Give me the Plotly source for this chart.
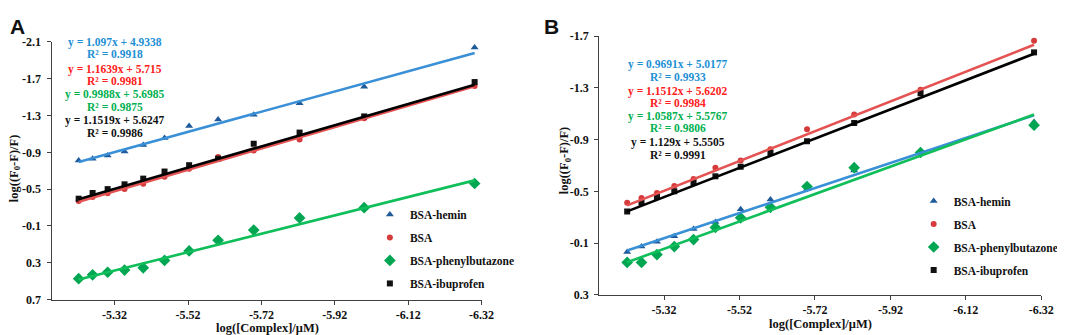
import plotly.graph_objects as go

# ---------------- data ----------------
x_log = [-5.222, -5.260, -5.301, -5.347, -5.398, -5.456, -5.523, -5.602, -5.699, -5.824, -6.000, -6.301]

series_names = ["BSA-hemin", "BSA", "BSA-phenylbutazone", "BSA-ibuprofen"]

a_hemin = [-0.812, -0.830, -0.865, -0.910, -0.979, -1.056, -1.187, -1.257, -1.309, -1.434, -1.611, -2.038]
a_bsa = [-0.372, -0.414, -0.455, -0.500, -0.559, -0.635, -0.720, -0.850, -0.920, -1.038, -1.270, -1.620]
a_phenyl = [0.473, 0.431, 0.403, 0.379, 0.355, 0.275, 0.171, 0.056, -0.055, -0.187, -0.298, -0.561]
a_ibup = [-0.396, -0.458, -0.500, -0.552, -0.614, -0.691, -0.760, -0.830, -0.993, -1.114, -1.290, -1.663]

b_hemin = [-0.031, -0.073, -0.110, -0.152, -0.209, -0.263, -0.361, -0.436, -0.520, -0.660, -0.813, -1.036]
b_bsa = [-0.411, -0.448, -0.487, -0.542, -0.596, -0.683, -0.739, -0.826, -0.979, -1.093, -1.285, -1.663]
b_phenyl = [0.050, 0.050, -0.011, -0.073, -0.127, -0.221, -0.295, -0.376, -0.537, -0.683, -0.800, -1.011]
b_ibup = [-0.344, -0.411, -0.456, -0.500, -0.567, -0.616, -0.690, -0.796, -0.887, -1.028, -1.258, -1.574]

a_slopes = [1.097, 1.1639, 0.9988, 1.1519]
a_intercepts = [4.9338, 5.715, 5.6985, 5.6247]
a_r2 = ["0.9918", "0.9981", "0.9875", "0.9986"]
a_eq_text = ["y = 1.097x + 4.9338", "y = 1.1639x + 5.715", "y = 0.9988x + 5.6985", "y = 1.1519x + 5.6247"]

b_slopes = [0.9691, 1.1512, 1.0587, 1.129]
b_intercepts = [5.0177, 5.6202, 5.5767, 5.5505]
b_r2 = ["0.9933", "0.9984", "0.9806", "0.9991"]
b_eq_text = ["y = 0.9691x + 5.0177", "y = 1.1512x + 5.6202", "y = 1.0587x + 5.5767", "y = 1.129x + 5.5505"]

x_tickvals = [-5.32, -5.52, -5.72, -5.92, -6.12, -6.32]
x_ticktext = ["-5.32", "-5.52", "-5.72", "-5.92", "-6.12", "-6.32"]
a_y_tickvals = [-2.1, -1.7, -1.3, -0.9, -0.5, -0.1, 0.3, 0.7]
a_y_ticktext = ["-2.1", "-1.7", "-1.3", "-0.9", "-0.5", "-0.1", "0.3", "0.7"]
b_y_tickvals = [-1.7, -1.3, -0.9, -0.5, -0.1, 0.3]
b_y_ticktext = ["-1.7", "-1.3", "-0.9", "-0.5", "-0.1", "0.3"]

# ---------------- style ----------------
W, H = 1065, 335
SERIF = "Liberation Serif"
SANS = "Liberation Sans"
marker_colors = ["#1F5A9A", "#D63B3B", "#00A651", "#111111"]
marker_symbols = ["triangle-up", "circle", "diamond", "square"]
marker_sizes = [7, 6, 9, 6]
line_colors = ["#3A90D6", "#E45252", "#10BE5A", "#000000"]
text_colors = ["#1E8FD5", "#FF2020", "#00B050", "#111111"]


def px(x):
    return x / W


def py(y):
    return 1 - y / H


fig = go.Figure()

panels = [
    ("x", "y", "legend", [a_hemin, a_bsa, a_phenyl, a_ibup], a_slopes, a_intercepts),
    ("x2", "y2", "legend2", [b_hemin, b_bsa, b_phenyl, b_ibup], b_slopes, b_intercepts),
]

for xa, ya, lg, ys, slopes, inters in panels:
    for i, name in enumerate(series_names):
        fig.add_trace(go.Scatter(
            x=x_log, y=ys[i], mode="markers", name=name,
            xaxis=xa, yaxis=ya, legend=lg, legendgroup=lg + name,
            marker=dict(symbol=marker_symbols[i], size=marker_sizes[i], color=marker_colors[i]),
            cliponaxis=False,
        ))
    for i, name in enumerate(series_names):
        xe = [x_log[0], x_log[-1]]
        fig.add_trace(go.Scatter(
            x=xe, y=[slopes[i] * v + inters[i] for v in xe], mode="lines",
            xaxis=xa, yaxis=ya, showlegend=False, hoverinfo="skip",
            line=dict(color=line_colors[i], width=2.6),
        ))

axis_common = dict(
    showgrid=False, zeroline=False, showline=True, linecolor="#404040", linewidth=1,
    ticks="outside", ticklen=4, tickcolor="#404040",
    tickfont=dict(family=SERIF, size=12, color="#111111", weight="bold"),
)

fig.update_layout(
    width=W, height=H, margin=dict(l=0, r=0, t=0, b=0),
    paper_bgcolor="white", plot_bgcolor="white",
    font=dict(family=SERIF),
    xaxis=dict(domain=[px(44), px(479)], range=[-5.148, -6.32], anchor="y",
               tickvals=x_tickvals, ticktext=x_ticktext, **axis_common),
    yaxis=dict(domain=[py(297), py(28)], range=[0.7, -2.1], anchor="x",
               tickvals=a_y_tickvals, ticktext=a_y_ticktext, ticklabelstandoff=3, **axis_common),
    xaxis2=dict(domain=[px(598), px(1045)], range=[-5.148, -6.32], anchor="y2",
                tickvals=x_tickvals, ticktext=x_ticktext, **axis_common),
    yaxis2=dict(domain=[py(292), py(22)], range=[0.3, -1.7], anchor="x2",
                tickvals=b_y_tickvals, ticktext=b_y_ticktext, ticklabelstandoff=3, **axis_common),
    legend=dict(x=px(366), y=py(193), xanchor="left", yanchor="top",
                traceorder="grouped", tracegroupgap=4, bgcolor="rgba(0,0,0,0)",
                font=dict(family=SERIF, size=11.5, color="#111111", weight="bold")),
    legend2=dict(x=px(916), y=py(179), xanchor="left", yanchor="top",
                 traceorder="grouped", tracegroupgap=4, bgcolor="rgba(0,0,0,0)",
                 font=dict(family=SERIF, size=11.5, color="#111111", weight="bold")),
    showlegend=True,
)

ann = []


def eq_font(c):
    return dict(family=SERIF, size=11.5, color=c, weight="bold")


a_rows = [29, 41, 57, 69, 83, 96, 110, 123]
b_rows = [52, 65, 80, 92, 106, 118, 133, 146]
for cx, rows, eqs, r2s in [(108, a_rows, a_eq_text, a_r2), (678, b_rows, b_eq_text, b_r2)]:
    for i in range(4):
        ann.append(dict(x=px(cx), y=py(rows[2 * i]), xref="paper", yref="paper", text=eqs[i],
                        showarrow=False, xanchor="center", yanchor="middle", font=eq_font(text_colors[i])))
        ann.append(dict(x=px(cx), y=py(rows[2 * i + 1]), xref="paper", yref="paper", text="R² = " + r2s[i],
                        showarrow=False, xanchor="center", yanchor="middle", font=eq_font(text_colors[i])))

title_font = dict(family=SERIF, size=12.5, color="#111111", weight="bold")
ann += [
    dict(x=px(262), y=py(327), xref="paper", yref="paper", text="log([Complex]/μM)",
         showarrow=False, xanchor="center", yanchor="middle", font=title_font),
    dict(x=px(822), y=py(322), xref="paper", yref="paper", text="log([Complex]/μM)",
         showarrow=False, xanchor="center", yanchor="middle", font=title_font),
    dict(x=px(7), y=py(160), xref="paper", yref="paper", text="log((F<sub>0</sub>-F)/F)",
         textangle=-90, showarrow=False, xanchor="center", yanchor="middle", font=title_font),
    dict(x=px(563), y=py(152), xref="paper", yref="paper", text="log((F<sub>0</sub>-F)/F)",
         textangle=-90, showarrow=False, xanchor="center", yanchor="middle", font=title_font),
    dict(x=px(10), y=py(12), xref="paper", yref="paper", text="A", showarrow=False,
         xanchor="center", yanchor="middle",
         font=dict(family=SANS, size=21, color="#111111", weight="bold")),
    dict(x=px(550), y=py(12), xref="paper", yref="paper", text="B", showarrow=False,
         xanchor="center", yanchor="middle",
         font=dict(family=SANS, size=21, color="#111111", weight="bold")),
]
fig.update_layout(annotations=ann)

fig.write_html("out.html")
